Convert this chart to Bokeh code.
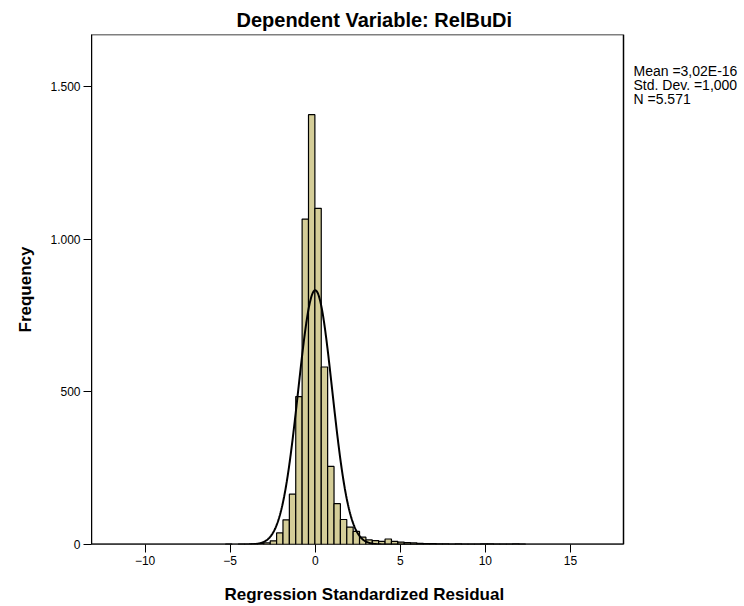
import numpy as np
from bokeh.plotting import figure
from bokeh.models import FixedTicker, Range1d, ColumnDataSource, Label, Title, BoxAnnotation
from bokeh.embed import file_html
from bokeh.resources import INLINE

# ---- data ----
first_edge = -2.27          # left edge of bin index 0
bin_width = 0.375
first_index = -8            # index of the first bin listed in counts
counts = [1, 0, 1, 1, 2, 3, 5, 12,
          38, 81, 165, 485, 1067, 1409, 1102, 582, 256, 134, 82, 57, 43,
          24, 15, 13, 10, 18, 10, 8, 6, 5, 4, 3, 3, 2, 2, 1, 2, 1, 1, 1,
          2, 2, 1, 1, 1, 2, 1]
n_total = 5571
mean_val = 3.02e-16
sd_val = 1.0

x_min, x_max = -13.15, 18.12
y_min, y_max = 0, 1672
x_ticks = [-10, -5, 0, 5, 10, 15]
y_ticks = [0, 500, 1000, 1500]
y_tick_labels = {0: "0", 500: "500", 1000: "1.000", 1500: "1.500"}
stats_lines = ["Mean =3,02E-16", "Std. Dev. =1,000", "N =5.571"]
title_text = "Dependent Variable: RelBuDi"
x_label = "Regression Standardized Residual"
y_label = "Frequency"

# ---- layout constants (pixels) ----
W, H = 744, 606
LEFT, TOP, BOTTOM = 91, 34, 62
BOX_W = 532                      # width of the drawn plot box
units_per_px = (x_max - x_min) / BOX_W
x_end = x_min + (W - LEFT) * units_per_px   # frame runs on to the right edge
frame_h = H - TOP - BOTTOM
cnt_per_px = (y_max - y_min) / frame_h

# ---- build histogram table ----
idx = np.arange(first_index, first_index + len(counts))
lefts = first_edge + idx * bin_width
rights = lefts + bin_width
cnt = np.array(counts)
mask = cnt > 0
src = ColumnDataSource(dict(left=lefts[mask], right=rights[mask], top=cnt[mask],
                            bottom=np.zeros(mask.sum())))

# fitted normal curve from the reported statistics
xs = np.linspace(x_min, x_max, 1200)
ys = n_total * bin_width * np.exp(-0.5 * ((xs - mean_val) / sd_val) ** 2) / (sd_val * np.sqrt(2 * np.pi))

FONT = "Liberation Sans"

p = figure(width=W, height=H, output_backend="svg", toolbar_location=None,
           x_range=Range1d(x_min, x_end), y_range=Range1d(y_min, y_max),
           min_border_left=LEFT, min_border_right=0, min_border_top=TOP, min_border_bottom=BOTTOM,
           title=title_text)

p.quad(left="left", right="right", top="top", bottom="bottom", source=src,
       fill_color="#d4cd98", line_color="black", line_width=1.2)
p.line(xs, ys, line_color="black", line_width=2)

# plot box
p.add_layout(BoxAnnotation(left=x_min, right=x_max, bottom=y_min, top=y_max,
                           fill_alpha=0, line_color="black", line_width=1.5, line_alpha=1))

p.grid.visible = False
p.outline_line_color = None
p.background_fill_color = "white"
p.border_fill_color = "white"

# title
p.title.text_font = FONT
p.title.text_font_size = "20px"
p.title.text_font_style = "bold"
p.title.text_color = "black"
p.title.align = "left"
p.title.offset = 145
p.title.standoff = 8

for ax in (p.xaxis[0], p.yaxis[0]):
    ax.axis_line_color = "black"
    ax.major_tick_line_color = "black"
    ax.major_tick_out = 8
    ax.major_tick_in = 0
    ax.minor_tick_line_color = None
    ax.major_label_text_font = FONT
    ax.major_label_text_font_size = "12px"
    ax.major_label_text_color = "black"
    ax.axis_label_text_font = FONT
    ax.axis_label_text_font_size = "17px"
    ax.axis_label_text_font_style = "bold"
    ax.axis_label_text_color = "black"
    ax.major_label_standoff = 3

p.xaxis[0].axis_line_color = None
p.xaxis[0].ticker = FixedTicker(ticks=x_ticks)
# blank spacer label to push the positioned x title down a little
p.xaxis[0].axis_label = " "
p.xaxis[0].axis_label_text_font_size = "1px"
p.xaxis[0].axis_label_standoff = 9
p.yaxis[0].ticker = FixedTicker(ticks=y_ticks)
p.yaxis[0].major_label_overrides = y_tick_labels
p.yaxis[0].axis_label = y_label
p.yaxis[0].axis_label_standoff = 12

# x-axis title, positioned under the plot box
p.add_layout(Title(text=x_label, align="left", offset=133, standoff=5,
                   text_font=FONT, text_font_size="17px", text_font_style="bold",
                   text_color="black"), "below")

# stats text just right of the plot box
stat_px_x = 10                  # gap from box edge
stat_px_y = [36, 50, 64]        # line centres below the box top
for txt, py in zip(stats_lines, stat_px_y):
    p.add_layout(Label(x=x_max + stat_px_x * units_per_px, y=y_max - py * cnt_per_px,
                       text=txt, text_font=FONT, text_font_size="14px", text_color="black",
                       text_baseline="middle", text_align="left"))

open("out.html", "w").write(file_html(p, INLINE))
